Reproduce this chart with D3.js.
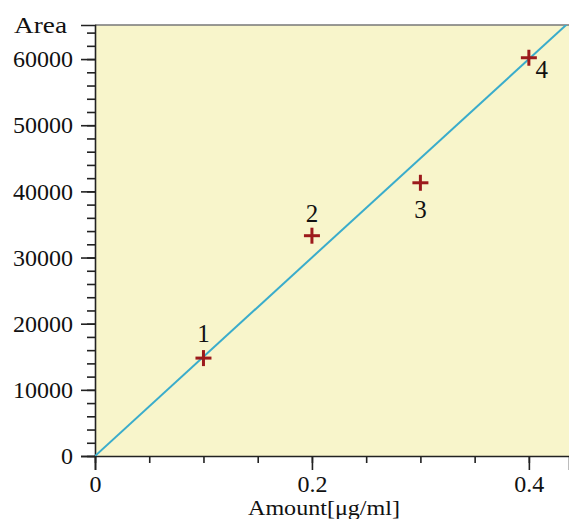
<!DOCTYPE html>
<html>
<head>
<meta charset="utf-8">
<script src="https://cdn.jsdelivr.net/npm/d3@7"></script>
<style>
  body { margin: 0; background: #fff; }
  svg { display: block; font-family: 'Liberation Serif', serif; }
</style>
</head>
<body>
<svg width="569" height="519"></svg>
<script>
const amounts = [0.1, 0.2, 0.3, 0.4];
const areas = [14800, 33300, 41300, 60200];
const labels = ['1', '2', '3', '4'];
const fitLine = [[0, 0], [0.44, 66000]];
const xTicks = [0, 0.2, 0.4];
const yTicks = [0, 10000, 20000, 30000, 40000, 50000, 60000];

const width = 569;
const height = 519;
const margin = { top: 25, right: 0, bottom: 63, left: 95 };
const svg = d3.select('svg');

const x = d3.scaleLinear().domain([0, 0.437]).range([margin.left, width - margin.right]);
const y = d3.scaleLinear().domain([0, 65150]).range([height - margin.bottom, margin.top]);

// plot background
svg.append('rect')
  .attr('x', margin.left)
  .attr('y', margin.top)
  .attr('width', width - margin.right - margin.left)
  .attr('height', height - margin.bottom - margin.top)
  .attr('fill', '#f8f5cb');

svg.append('line')
  .attr('x1', margin.left).attr('x2', width)
  .attr('y1', margin.top).attr('y2', margin.top)
  .attr('stroke', '#777').attr('stroke-width', 1.5);

// minor ticks
const yAxisMinor = d3.axisLeft(y).tickValues(d3.range(0, 65000, 2000)).tickSize(8).tickFormat('');
const xAxisMinor = d3.axisBottom(x).tickValues(d3.range(0, 0.44, 0.05)).tickSize(7).tickFormat('');

svg.append('g')
  .attr('transform', `translate(${margin.left},0)`)
  .call(yAxisMinor)
  .call(g => g.select('.domain').remove())
  .selectAll('line').attr('stroke', '#222').attr('stroke-width', 1.6);

svg.append('g')
  .attr('transform', `translate(0,${height - margin.bottom})`)
  .call(xAxisMinor)
  .call(g => g.select('.domain').remove())
  .selectAll('line').attr('stroke', '#222').attr('stroke-width', 1.6);

// major ticks + labels
const yAxis = svg.append('g')
  .attr('transform', `translate(${margin.left},0)`)
  .call(d3.axisLeft(y).tickValues(yTicks).tickSize(14).tickPadding(8).tickFormat(d3.format('d')));
yAxis.select('.domain').attr('stroke', '#222').attr('stroke-width', 1.6);
yAxis.selectAll('line').attr('stroke', '#222').attr('stroke-width', 1.6);
yAxis.selectAll('text')
  .attr('font-family', 'Liberation Serif, serif')
  .attr('font-size', 24)
  .attr('fill', '#111');

const xAxis = svg.append('g')
  .attr('transform', `translate(0,${height - margin.bottom})`)
  .call(d3.axisBottom(x).tickValues(xTicks).tickSize(14).tickPadding(5).tickFormat(d => d === 0 ? '0' : d3.format('.1f')(d)));
xAxis.select('.domain').attr('stroke', '#222').attr('stroke-width', 1.6);
xAxis.selectAll('line').attr('stroke', '#222').attr('stroke-width', 1.6);
xAxis.selectAll('text')
  .attr('font-family', 'Liberation Serif, serif')
  .attr('font-size', 24)
  .attr('fill', '#111');

// axis titles
svg.append('text')
  .attr('x', 14)
  .attr('y', 33)
  .attr('font-size', 23)
  .attr('textLength', 53)
  .attr('lengthAdjust', 'spacingAndGlyphs')
  .attr('fill', '#111')
  .text('Area');

svg.append('text')
  .attr('x', 248)
  .attr('y', 515)
  .attr('font-size', 22)
  .attr('textLength', 152)
  .attr('lengthAdjust', 'spacingAndGlyphs')
  .attr('fill', '#111')
  .text('Amount[μg/ml]');

// calibration line
svg.append('clipPath').attr('id', 'plotclip')
  .append('rect')
  .attr('x', margin.left).attr('y', margin.top)
  .attr('width', width - margin.left).attr('height', height - margin.bottom - margin.top);

svg.append('path')
  .datum(fitLine)
  .attr('clip-path', 'url(#plotclip)')
  .attr('fill', 'none')
  .attr('stroke', '#3aaccb')
  .attr('stroke-width', 2)
  .attr('d', d3.line().x(d => x(d[0])).y(d => y(d[1])));

// points
const pts = amounts.map((a, i) => ({ a: a, v: areas[i], label: labels[i] }));
const cross = svg.append('g').selectAll('g').data(pts).enter().append('g')
  .attr('transform', d => `translate(${x(d.a)},${y(d.v)})`);
cross.append('line').attr('x1', -8).attr('x2', 8).attr('y1', 0).attr('y2', 0)
  .attr('stroke', '#9c1a1c').attr('stroke-width', 3);
cross.append('line').attr('x1', 0).attr('x2', 0).attr('y1', -8).attr('y2', 8)
  .attr('stroke', '#9c1a1c').attr('stroke-width', 3);

// point labels
const labelOffsets = [[0, -16], [0, -14], [0, 35], [13, 20]];
svg.append('g').selectAll('text').data(pts).enter().append('text')
  .attr('x', (d, i) => x(d.a) + labelOffsets[i][0])
  .attr('y', (d, i) => y(d.v) + labelOffsets[i][1])
  .attr('text-anchor', 'middle')
  .attr('font-size', 25)
  .attr('fill', '#111')
  .text(d => d.label);
</script>
</body>
</html>
